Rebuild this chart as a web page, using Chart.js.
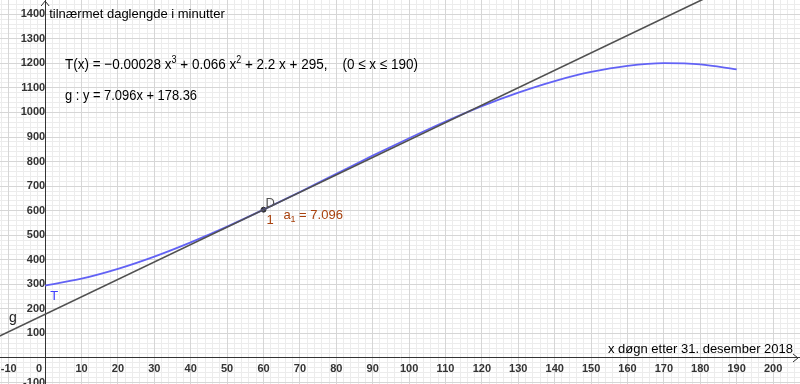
<!DOCTYPE html>
<html>
<head>
<meta charset="utf-8">
<script src="https://cdn.jsdelivr.net/npm/chart.js@4"></script>
<style>
  html, body { margin: 0; padding: 0; background: #fff; }
  #wrap { width: 800px; height: 384px; }
</style>
</head>
<body>
<div id="wrap"><canvas id="graf" width="800" height="384"></canvas></div>
<script>
// data
const dager = [0, 10, 20, 30, 40, 50, 60, 70, 80, 90, 100, 110, 120, 130, 140, 150, 160, 170, 180, 190];
const daglengde = [295, 323, 363, 413, 471, 535, 604, 676, 750, 824, 895, 963, 1026, 1081, 1128, 1165, 1190, 1201, 1196, 1175];
const tangentX = [-15, 185];
const tangentY = [72, 1491];
const punktD = [60, 604];
const xMin = -12.4, xMax = 207.4, yMin = -106, yMax = 1458;

// axes sit inside the plot, so they must not take any room
function noRoom(s) {
    if (s.isHorizontal()) s.height = 0; else s.width = 0;
    s.paddingTop = s.paddingBottom = s.paddingLeft = s.paddingRight = 0;
}

// draws pieces of text squeezed to a given total width
function tekstRad(c, deler, x, y, bredde) {
    let w = 0;
    deler.forEach(d => { c.font = d[2]; w += c.measureText(d[0]).width; });
    const k = bredde / w;
    deler.forEach(d => {
        c.font = d[2];
        c.save();
        c.translate(x, y + d[1]);
        c.scale(k, 1);
        c.fillText(d[0], 0, 0);
        c.restore();
        x += c.measureText(d[0]).width * k;
    });
}

const annotasjoner = {
    id: 'annotasjoner',
    afterDraw(chart) {
        const c = chart.ctx;
        const xs = chart.scales.x, ys = chart.scales.y;
        const x0 = xs.getPixelForValue(0), y0 = ys.getPixelForValue(0);
        c.save();
        // arrows on axes
        c.strokeStyle = '#333';
        c.lineWidth = 1;
        c.beginPath();
        c.moveTo(x0 - 4, 6); c.lineTo(x0, 1); c.lineTo(x0 + 4, 6);
        c.moveTo(793, y0 - 4); c.lineTo(798, y0); c.lineTo(793, y0 + 4);
        c.stroke();

        c.fillStyle = '#000';
        c.font = '13px "Liberation Sans", Arial, sans-serif';
        c.textBaseline = 'alphabetic';
        c.textAlign = 'left';
        c.fillText('tilnærmet daglengde i minutter', x0 + 4, 18);
        c.textAlign = 'right';
        c.fillText('x døgn etter 31. desember 2018', 793, y0 - 5);

        // "0" at origin
        c.font = 'bold 11px "Liberation Sans", Arial, sans-serif';
        c.fillStyle = '#333';
        c.textAlign = 'right';
        c.fillText('0', x0 - 3, y0 + 14);

        // formulas
        c.fillStyle = '#000';
        c.textAlign = 'left';
        const base = '15px "Liberation Sans", Arial, sans-serif', sup = '10px "Liberation Sans", Arial, sans-serif';
        tekstRad(c, [
            ['T(x) = −0.00028 x', 0, base], ['3', -6, sup],
            [' + 0.066 x', 0, base], ['2', -6, sup],
            [' + 2.2 x + 295,    (0 ≤ x ≤ 190)', 0, base]
        ], 65, 69, 353);
        tekstRad(c, [['g : y = 7.096x + 178.36', 0, base]], 65, 100, 132);

        // point labels
        const dx = xs.getPixelForValue(punktD[0]), dy = ys.getPixelForValue(punktD[1]);
        c.font = '13px "Liberation Sans", Arial, sans-serif';
        c.fillStyle = '#555';
        c.fillText('D', dx + 2, dy - 3);
        c.fillStyle = '#a8420e';
        c.fillText('1', dx + 3, dy + 14);
        c.fillText('a', dx + 20, dy + 9);
        c.font = '9px "Liberation Sans", Arial, sans-serif';
        c.fillText('1', dx + 27, dy + 12);
        c.font = '13px "Liberation Sans", Arial, sans-serif';
        c.fillText(' = 7.096', dx + 32, dy + 9);

        c.fillStyle = '#4040ff';
        c.fillText('T', x0 + 5, ys.getPixelForValue(295) + 14);
        c.fillStyle = '#222';
        c.font = '14px "Liberation Sans", Arial, sans-serif';
        c.fillText('g', 9, ys.getPixelForValue(178) + 8);
        c.restore();
    }
};

new Chart(document.getElementById('graf'), {
    type: 'line',
    data: {
        datasets: [
            {
                label: 'g',
                data: tangentX.map((v, i) => ({ x: v, y: tangentY[i] })),
                borderColor: '#505050',
                borderWidth: 1.6,
                pointRadius: 0
            },
            {
                label: 'T',
                data: dager.map((v, i) => ({ x: v, y: daglengde[i] })),
                borderColor: '#6262f5',
                borderWidth: 1.8,
                pointRadius: 0,
                cubicInterpolationMode: 'monotone'
            },
            {
                label: 'D',
                data: [{ x: punktD[0], y: punktD[1] }],
                showLine: false,
                pointRadius: 2.5,
                pointBackgroundColor: '#333',
                pointBorderColor: '#333'
            }
        ]
    },
    options: {
        responsive: false,
        animation: false,
        layout: { padding: 0, autoPadding: false },
        plugins: { legend: { display: false }, tooltip: { enabled: false } },
        scales: {
            xm: {
                type: 'linear', axis: 'x', position: 'bottom', min: xMin, max: xMax,
                afterFit: noRoom,
                ticks: { display: false, stepSize: 2, includeBounds: false },
                border: { display: false },
                grid: { drawTicks: false, color: c => (Math.round(c.tick.value) % 10 === 0 ? 'rgba(0,0,0,0)' : '#ececec') }
            },
            ym: {
                type: 'linear', axis: 'y', position: 'left', min: yMin, max: yMax,
                afterFit: noRoom,
                ticks: { display: false, stepSize: 20, includeBounds: false },
                border: { display: false },
                grid: { drawTicks: false, color: c => (Math.round(c.tick.value) % 100 === 0 ? 'rgba(0,0,0,0)' : '#ececec') }
            },
            x: {
                type: 'linear', position: { y: 0 }, min: xMin, max: xMax,
                afterFit: noRoom,
                border: { display: true, color: '#333', width: 1 },
                grid: { drawTicks: false, color: '#d6d6d6' },
                ticks: {
                    stepSize: 10, includeBounds: false, padding: 4, maxRotation: 0, autoSkip: false,
                    color: '#333', font: { family: '"Liberation Sans", Arial, sans-serif', size: 11, weight: 'bold' },
                    callback: v => (v === 0 ? '' : v)
                }
            },
            y: {
                type: 'linear', position: { x: 0 }, min: yMin, max: yMax,
                afterFit: noRoom,
                border: { display: true, color: '#333', width: 1 },
                grid: { drawTicks: false, color: '#d6d6d6' },
                ticks: {
                    stepSize: 100, includeBounds: false, padding: 6, autoSkip: false,
                    color: '#333', font: { family: '"Liberation Sans", Arial, sans-serif', size: 11, weight: 'bold' },
                    callback: v => (v === 0 ? '' : v)
                }
            }
        }
    },
    plugins: [annotasjoner]
});
</script>
</body>
</html>
